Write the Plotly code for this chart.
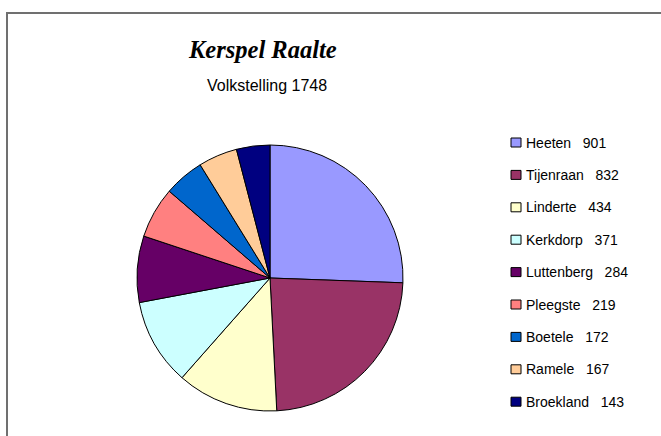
import plotly.graph_objects as go

villages = ["Heeten", "Tijenraan", "Linderte", "Kerkdorp", "Luttenberg",
            "Pleegste", "Boetele", "Ramele", "Broekland"]
population = [901, 832, 434, 371, 284, 219, 172, 167, 143]
colors = ["#9999FF", "#993366", "#FFFFCC", "#CCFFFF", "#660066",
          "#FF8080", "#0066CC", "#FFCC99", "#000080"]

title_text = "Kerspel Raalte"
subtitle_text = "Volkstelling 1748"

W, H = 661, 436

fig = go.Figure(go.Pie(
    labels=villages,
    values=population,
    sort=False,
    direction="clockwise",
    rotation=0,
    textinfo="none",
    hoverinfo="label+value",
    marker=dict(colors=colors, line=dict(color="#000000", width=1)),
    domain=dict(x=[137 / W, 403 / W], y=[(H - 411) / H, (H - 145) / H]),
    showlegend=False,
))

# legend (key) built from the data lists
legend_top = 142.5   # px, centre of first row
legend_step = 32.4   # px between rows
shapes = [
    dict(type="rect", xref="paper", yref="paper",
         x0=7 / W, x1=1.05, y0=-0.05, y1=(H - 13) / H,
         line=dict(color="#707070", width=2), fillcolor="rgba(0,0,0,0)"),
]
annotations = [
    dict(text=f"<b><i>{title_text}</i></b>", x=262.5 / W, y=(H - 50) / H,
         xref="paper", yref="paper", xanchor="center", yanchor="middle",
         showarrow=False,
         font=dict(family="Liberation Serif, Times New Roman, serif", size=24.5, color="#000000")),
    dict(text=subtitle_text, x=267 / W, y=(H - 85) / H,
         xref="paper", yref="paper", xanchor="center", yanchor="middle",
         showarrow=False,
         font=dict(family="Liberation Sans, Arial, sans-serif", size=16, color="#000000")),
]
for i, (name, val, col) in enumerate(zip(villages, population, colors)):
    cy = legend_top + i * legend_step
    shapes.append(dict(type="rect", xref="paper", yref="paper",
                       x0=511 / W, x1=521 / W,
                       y0=(H - cy - 4.5) / H, y1=(H - cy + 4.5) / H,
                       line=dict(color="#000000", width=1), fillcolor=col))
    annotations.append(dict(text=f"{name}&nbsp;&nbsp;&nbsp;{val}",
                            x=524 / W, y=(H - cy) / H,
                            xref="paper", yref="paper", xanchor="left", yanchor="middle",
                            showarrow=False,
                            font=dict(family="Liberation Sans, Arial, sans-serif", size=14,
                                      color="#000000")))

fig.update_layout(
    width=W, height=H,
    margin=dict(l=0, r=0, t=0, b=0),
    paper_bgcolor="white",
    plot_bgcolor="white",
    font=dict(family="Liberation Sans, Arial, sans-serif", color="#000000"),
    showlegend=False,
    annotations=annotations,
    shapes=shapes,
)

fig.write_html("out.html", config={"displayModeBar": False},
               post_script="document.body.style.margin='0px';")
